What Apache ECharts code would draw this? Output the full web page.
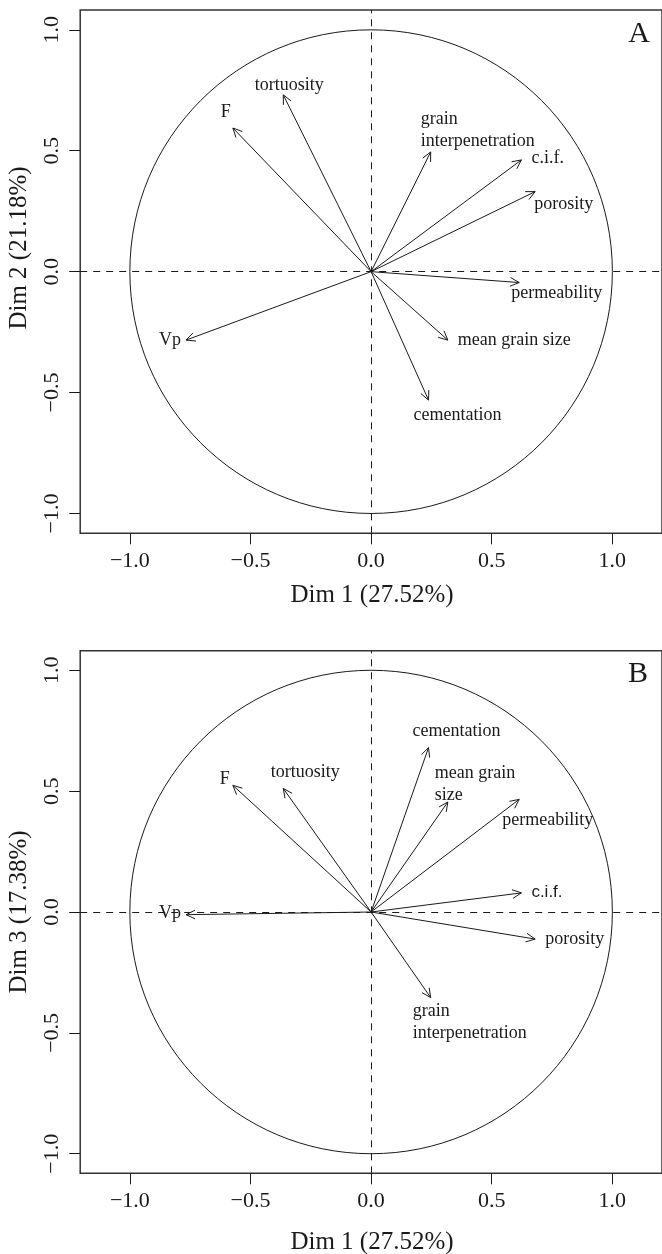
<!DOCTYPE html>
<html><head><meta charset="utf-8">
<script src="https://cdn.jsdelivr.net/npm/echarts@6/dist/echarts.min.js"></script>
<style>html,body{margin:0;padding:0;background:#fff}#c{width:662px;height:1254px}</style>
</head><body><div id="c"></div>
<script>
// ---------- data ----------
const variables = ["F","tortuosity","Vp","cementation","mean grain size","permeability","c.i.f.","porosity","grain interpenetration"];
const dim1 = [-0.573, -0.364, -0.767, 0.238, 0.318, 0.614, 0.623, 0.680, 0.247];
const dim2 = [0.594, 0.731, -0.283, -0.531, -0.283, -0.045, 0.462, 0.331, 0.495];
const dim3 = [0.524, 0.511, -0.011, 0.680, 0.455, 0.466, 0.079, -0.112, -0.354];
const labelsA = ["F","tortuosity","Vp","cementation","mean grain size","permeability","c.i.f.","porosity","grain\ninterpenetration"];
const labelsB = ["F","tortuosity","Vp","cementation","mean grain\nsize","permeability","c.i.f.","porosity","grain\ninterpenetration"];
const tickValues = [-1.0, -0.5, 0.0, 0.5, 1.0];
const xTitle = "Dim 1 (27.52%)";
const yTitleA = "Dim 2 (21.18%)";
const yTitleB = "Dim 3 (17.38%)";
const panelTags = ["A", "B"];

// ---------- layout / style ----------
const SERIF = "'Liberation Serif', 'Times New Roman', serif";
const INK = "#1a1a1a";
// label offsets relative to arrow tip (px): [dx, dy, align]
const layoutA = [[-7,-16,"center"],[6,-10,"center"],[-5,0,"right"],[-15,15,"left"],[10,0,"left"],[-8,11,"left"],[10,-2,"left"],[-1,13,"left"],[-10,-22,"left"]];
const layoutB = [[-8,-6,"center"],[22,-16,"center"],[-5,-1,"right"],[-16,-16,"left"],[-13,-18,"left"],[-17,21,"left"],[10,-1,"left"],[10,0,"left"],[-18,25,"left"]];
const sansLabelB = [false,false,false,false,false,false,true,false,false];
const XR = 1.2058;
const grids = [
  {left: 80.2, top: 10, width: 583.6, height: 523.3, yr: 1.082},
  {left: 80.2, top: 650.7, width: 583.6, height: 522.6, yr: 1.081}
];

const fmt = v => (v < 0 ? "\u2212" : "") + Math.abs(v).toFixed(1);

function arrowSeries(gi, yvals, labels, layout, sansFlags) {
  return {
    type: "custom", xAxisIndex: gi, yAxisIndex: gi, silent: true, clip: false,
    data: variables.map((v, i) => [dim1[i], yvals[i], i]),
    renderItem: function (params, api) {
      const i = api.value(2);
      const tip = api.coord([api.value(0), api.value(1)]);
      const o = api.coord([0, 0]);
      const th = Math.atan2(tip[1] - o[1], tip[0] - o[0]);
      const L = 10, a = 0.45;
      const h1 = [tip[0] - L * Math.cos(th - a), tip[1] - L * Math.sin(th - a)];
      const h2 = [tip[0] - L * Math.cos(th + a), tip[1] - L * Math.sin(th + a)];
      const lay = layout[i];
      const sans = sansFlags && sansFlags[i];
      return {
        type: "group",
        children: [
          {type: "line", shape: {x1: o[0], y1: o[1], x2: tip[0], y2: tip[1]}, style: {stroke: INK, lineWidth: 1}},
          {type: "polyline", shape: {points: [h1, tip, h2]}, style: {stroke: INK, lineWidth: 1, fill: null}},
          {type: "text", x: tip[0] + lay[0], y: tip[1] + lay[1],
           style: {text: labels[i], fill: INK, align: lay[2], verticalAlign: "middle",
                   font: (sans ? "17px 'Liberation Sans', Arial, sans-serif" : "18px " + SERIF), lineHeight: 22}}
        ]
      };
    }
  };
}

function circleSeries(gi) {
  return {
    type: "custom", xAxisIndex: gi, yAxisIndex: gi, silent: true, clip: false,
    data: [[0, 0]],
    renderItem: function (params, api) {
      const c = api.coord([0, 0]);
      const rx = api.coord([1, 0])[0] - c[0];
      const ry = c[1] - api.coord([0, 1])[1];
      return {type: "ellipse", shape: {cx: c[0], cy: c[1], rx: rx, ry: ry}, style: {stroke: INK, lineWidth: 1, fill: null}};
    },
    markLine: {
      silent: true, symbol: ["none", "none"], label: {show: false},
      lineStyle: {color: INK, width: 1, type: [7, 6]},
      data: [{xAxis: 0}, {yAxis: 0}]
    }
  };
}

const xAxes = grids.map((g, gi) => ({
  type: "value", gridIndex: gi, min: -XR, max: XR, position: "bottom",
  axisLine: {show: false, onZero: false}, splitLine: {show: false},
  axisTick: {show: true, inside: false, length: 11, customValues: tickValues, lineStyle: {color: INK, width: 1}},
  axisLabel: {customValues: tickValues, formatter: fmt, fontFamily: SERIF, fontSize: 22, color: INK, margin: 17}
}));
const yAxes = grids.map((g, gi) => ({
  type: "value", gridIndex: gi, min: -g.yr, max: g.yr, position: "left",
  axisLine: {show: false, onZero: false}, splitLine: {show: false},
  axisTick: {show: true, inside: false, length: 11, customValues: tickValues, lineStyle: {color: INK, width: 1}},
  axisLabel: {customValues: tickValues, formatter: fmt, fontFamily: SERIF, fontSize: 22, color: INK, margin: 17, rotate: 90}
}));

const titleFont = "25px " + SERIF;
const graphic = [
  {type: "text", x: 372, y: 595, style: {text: xTitle, font: titleFont, fill: INK, align: "center", verticalAlign: "middle"}},
  {type: "text", x: 372, y: 1242, style: {text: xTitle, font: titleFont, fill: INK, align: "center", verticalAlign: "middle"}},
  {type: "text", x: 19, y: 248, rotation: Math.PI / 2, style: {text: yTitleA, font: titleFont, fill: INK, align: "center", verticalAlign: "middle"}},
  {type: "text", x: 19, y: 912, rotation: Math.PI / 2, style: {text: yTitleB, font: titleFont, fill: INK, align: "center", verticalAlign: "middle"}},
  {type: "text", x: 639, y: 34, style: {text: panelTags[0], font: "30px " + SERIF, fill: INK, align: "center", verticalAlign: "middle"}},
  {type: "text", x: 638, y: 674, style: {text: panelTags[1], font: "30px " + SERIF, fill: INK, align: "center", verticalAlign: "middle"}}
];

const chart = echarts.init(document.getElementById("c"), null, {renderer: "canvas"});
chart.setOption({
  animation: false,
  backgroundColor: "#fff",
  grid: grids.map(g => ({left: g.left, top: g.top, width: g.width, height: g.height, show: true, borderColor: "#333", borderWidth: 1.5, backgroundColor: "transparent"})),
  xAxis: xAxes,
  yAxis: yAxes,
  graphic: graphic,
  series: [
    circleSeries(0), arrowSeries(0, dim2, labelsA, layoutA, null),
    circleSeries(1), arrowSeries(1, dim3, labelsB, layoutB, sansLabelB)
  ]
});
</script></body></html>
